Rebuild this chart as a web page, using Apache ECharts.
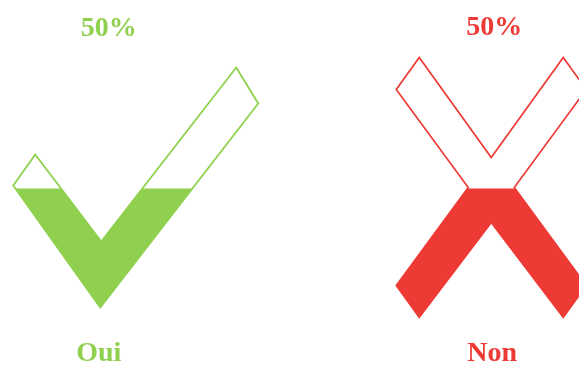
<!DOCTYPE html>
<html>
<head>
<meta charset="utf-8">
<style>
  html, body { margin: 0; padding: 0; background: #fff; }
  #chart { width: 579px; height: 365px; }
</style>
<script src="https://cdn.jsdelivr.net/npm/echarts@6/dist/echarts.min.js"></script>
</head>
<body>
<div id="chart"></div>
<script>
// Answers and their shares (percent)
const categories = ['Oui', 'Non'];
const shares = [50, 50];
const totals = [100, 100];
const colors = ['#8fd14f', '#ee3a35'];

// Tick mark and cross outlines
const checkPath = 'path://M0,118L22,87L88,174L223,0L245,36L87,240Z';
const crossPath = 'path://M0,32L23,0L95,100L167,0L190,32L118,130L190,228L167,260L95,165L23,260L0,228L72,130Z';
const symbols = [checkPath, crossPath];
const symbolSizes = [[245, 240], [190, 260]];
const symbolOffsets = [[37, -1], [-1, -1]];
const labelOffsets = [[10, 3], [2, 12]];

const serif = "'Liberation Serif', 'Times New Roman', serif";

const chart = echarts.init(document.getElementById('chart'), null, { renderer: 'canvas' });

const outlineData = totals.map((v, i) => ({
  value: v,
  symbol: symbols[i],
  symbolSize: symbolSizes[i],
  symbolOffset: symbolOffsets[i],
  itemStyle: { color: '#ffffff', borderColor: colors[i], borderWidth: 3 }
}));

const fillData = shares.map((v, i) => ({
  value: v,
  symbol: symbols[i],
  symbolSize: symbolSizes[i],
  symbolOffset: symbolOffsets[i],
  itemStyle: { color: colors[i] },
  label: { color: colors[i], offset: labelOffsets[i] }
}));

chart.setOption({
  animation: false,
  grid: { left: -98, right: -110, top: 59, bottom: 47, outerBoundsMode: 'none', containLabel: false },
  xAxis: {
    type: 'category',
    data: categories,
    axisLine: { show: false },
    axisTick: { show: false },
    splitLine: { show: false },
    axisLabel: {
      margin: 22,
      fontSize: 28,
      fontWeight: 'bold',
      fontFamily: serif,
      color: (value, index) => colors[index]
    }
  },
  yAxis: {
    type: 'value',
    min: 0,
    max: 100,
    show: false
  },
  series: [
    {
      type: 'pictorialBar',
      z: 1,
      barGap: '-100%',
      symbolPosition: 'center',
      symbolBoundingData: 100,
      symbolClip: false,
      silent: true,
      data: outlineData
    },
    {
      type: 'pictorialBar',
      z: 2,
      barGap: '-100%',
      symbolPosition: 'center',
      symbolBoundingData: 100,
      symbolClip: true,
      data: fillData,
      label: {
        show: true,
        position: 'top',
        distance: 28,
        formatter: '{c}%',
        fontSize: 28,
        fontWeight: 'bold',
        fontFamily: serif
      }
    }
  ]
});
</script>
</body>
</html>
